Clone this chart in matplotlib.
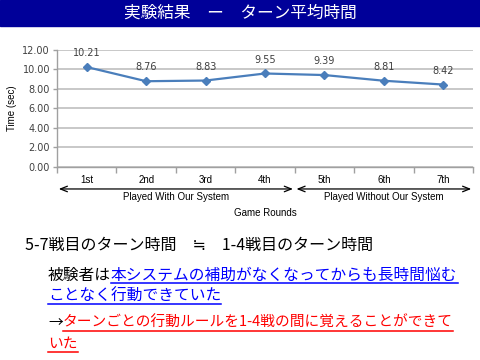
import matplotlib
matplotlib.use('Agg')
import matplotlib.pyplot as plt
from matplotlib.patches import Rectangle
from matplotlib.lines import Line2D

plt.rcParams['font.family'] = ['Noto Sans CJK JP', 'DejaVu Sans']

# データ
rounds = ['1st', '2nd', '3rd', '4th', '5th', '6th', '7th']
times = [10.21, 8.76, 8.83, 9.55, 9.39, 8.81, 8.42]
yticks = [0, 2, 4, 6, 8, 10, 12]
groups = ['Played With Our System', 'Played Without Our System']
group_spans = [(-0.5, 3.5), (3.5, 6.5)]

W, H = 480, 360
fig = plt.figure(figsize=(4.8, 3.6), dpi=100)

def px(x, y):
    # ピクセル座標 -> figure座標
    return x / W, 1 - y / H

# タイトルバー
fig.patches.append(Rectangle((0, 1 - 26 / H), 1, 26 / H, transform=fig.transFigure,
                             color='#000099', zorder=0))
fig.text(*px(240, 13), '実験結果　ー　ターン平均時間', color='white', fontsize=12,
         ha='center', va='center')

# グラフ
left, right, top, bottom = 57, 473, 49.5, 167
ax = fig.add_axes([left / W, 1 - bottom / H, (right - left) / W, (bottom - top) / H])
x = list(range(len(rounds)))
ax.plot(x, times, color='#4A7EBB', lw=1.6, marker='D', ms=4.5, zorder=3)
for xi, v in zip(x, times):
    ax.annotate('%.2f' % v, (xi, v), xytext=(0, 10), textcoords='offset points',
                ha='center', va='center', fontsize=7, color='#404040',
                family='DejaVu Sans')

ax.set_xlim(-0.5, 6.5)
ax.set_ylim(0, 12)
ax.set_yticks(yticks)
ax.set_yticklabels(['%.2f' % t for t in yticks], fontsize=7, color='#404040',
                   family='DejaVu Sans')
ax.set_xticks(x)
ax.set_xticklabels(rounds, fontsize=7, color='black', family='Liberation Sans')
ax.set_xticks([i - 0.5 for i in range(len(rounds) + 1)], minor=True)
ax.tick_params(axis='x', which='major', length=0, pad=6)
ax.tick_params(axis='x', which='minor', length=4, color='#A0A0A0', width=1)
ax.tick_params(axis='y', length=3, color='#A0A0A0', width=1, pad=2)
ax.grid(True, axis='y', color='#BFBFBF', lw=1.2)
for s in ['top', 'right']:
    ax.spines[s].set_visible(False)
for s in ['left', 'bottom']:
    ax.spines[s].set_color('#A0A0A0')
    ax.spines[s].set_linewidth(1)
ax.set_ylabel('Time (sec)', fontsize=7, family='Liberation Sans', labelpad=4)

# グループの矢印とラベル
trans = ax.get_xaxis_transform()
for (a, b), g in zip(group_spans, groups):
    ax.annotate('', xy=(b - 0.03, -0.187), xytext=(a + 0.03, -0.187),
                xycoords=trans, textcoords=trans, annotation_clip=False,
                arrowprops=dict(arrowstyle='<->,head_length=0.5,head_width=0.2',
                                lw=0.9, color='black', shrinkA=0, shrinkB=0))
    ax.text((a + b) / 2, -0.255, g, transform=trans, ha='center', va='center',
            fontsize=7, family='Liberation Sans')
ax.text(0.5, -0.39, 'Game Rounds', transform=ax.transAxes, ha='center', va='center',
        fontsize=7, family='Liberation Sans')

# 本文テキスト
fig.text(*px(25, 245), '5-7戦目のターン時間　≒　1-4戦目のターン時間', fontsize=11.5,
         ha='left', va='center')

renderer = fig.canvas.get_renderer()

def segments(x0, y, parts, fs):
    # parts: (text, color, underline) のリスト
    xc = x0
    for txt, col, ul in parts:
        t = fig.text(*px(xc, y), txt, fontsize=fs, color=col, ha='left', va='center')
        w = t.get_window_extent(renderer).width
        if ul:
            yu = y + 8
            fig.lines.append(Line2D([xc / W, (xc + w) / W], [1 - yu / H, 1 - yu / H],
                                    transform=fig.transFigure, color=col, lw=1.1))
        xc += w

segments(48, 275, [('被験者は', 'black', False),
                   ('本システムの補助がなくなってからも長時間悩む', '#0000FF', True)], 11.3)
segments(48, 296, [('ことなく行動できていた', '#0000FF', True)], 11.3)
segments(48, 323, [('→', 'black', False),
                   ('ターンごとの行動ルールを1-4戦の間に覚えることができて', '#FF0000', True)], 10.6)
segments(48, 344, [('いた', '#FF0000', True)], 10.6)

fig.savefig('out.png', dpi=100)
